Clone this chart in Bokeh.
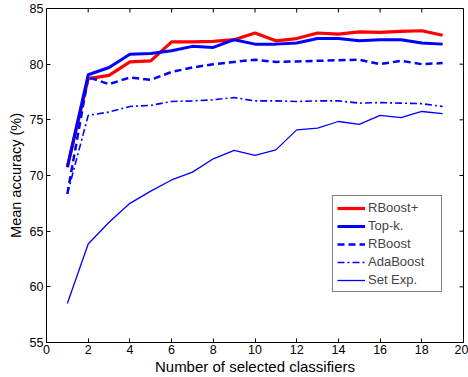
from bokeh.plotting import figure
from bokeh.models import Legend, LegendItem, FixedTicker, Range1d
from bokeh.embed import file_html
from bokeh.resources import INLINE

k = list(range(1, 20))
rboost_plus = [70.75, 78.7, 79.0, 80.2, 80.3, 82.0, 82.0, 82.05, 82.2, 82.8, 82.1, 82.3, 82.8, 82.7, 82.9, 82.85, 82.95, 83.0, 82.6]
topk = [70.75, 79.05, 79.7, 80.9, 80.95, 81.2, 81.6, 81.5, 82.2, 81.8, 81.8, 81.9, 82.3, 82.3, 82.1, 82.2, 82.2, 81.9, 81.8]
rboost = [68.35, 78.85, 78.2, 78.8, 78.6, 79.3, 79.7, 80.0, 80.2, 80.4, 80.2, 80.25, 80.3, 80.35, 80.4, 80.0, 80.3, 80.0, 80.1]
adaboost = [68.35, 75.4, 75.7, 76.2, 76.3, 76.65, 76.7, 76.8, 77.0, 76.7, 76.7, 76.65, 76.7, 76.7, 76.5, 76.55, 76.5, 76.45, 76.2]
setexp = [58.5, 63.85, 65.8, 67.5, 68.6, 69.6, 70.3, 71.5, 72.25, 71.8, 72.3, 74.1, 74.25, 74.85, 74.6, 75.4, 75.2, 75.75, 75.55]

x_ticks = list(range(0, 21, 2))
y_ticks = list(range(55, 86, 5))
x_min, x_max = 0, 20
y_min, y_max = 55, 85

FONT = "Liberation Sans"

p = figure(width=468, height=377, output_backend="svg", toolbar_location=None,
           x_range=Range1d(x_min, x_max), y_range=Range1d(y_min, y_max),
           min_border_left=46, min_border_right=5, min_border_top=8, min_border_bottom=35)
p.grid.visible = False
p.outline_line_color = "black"
p.outline_line_width = 1
p.background_fill_color = "white"
p.border_fill_color = "white"

for ax in (p.xaxis[0], p.yaxis[0]):
    ax.major_tick_in = 4
    ax.major_tick_out = 0
    ax.minor_tick_line_color = None
    ax.axis_line_color = "black"
    ax.major_label_text_font = FONT
    ax.major_label_text_font_size = "12.5px"
    ax.major_label_text_color = "black"
    ax.axis_label_text_font = FONT
    ax.axis_label_text_font_style = "normal"
    ax.axis_label_text_color = "black"
p.xaxis[0].ticker = FixedTicker(ticks=x_ticks)
p.yaxis[0].ticker = FixedTicker(ticks=y_ticks)
p.xaxis[0].axis_label = "Number of selected classifiers"
p.yaxis[0].axis_label = "Mean accuracy (%)"
p.xaxis[0].axis_label_text_font_size = "15px"
p.yaxis[0].axis_label_text_font_size = "14.5px"
p.xaxis[0].major_label_standoff = 2
p.xaxis[0].axis_label_standoff = 1
p.yaxis[0].major_label_standoff = 3
p.yaxis[0].axis_label_standoff = 3

# inward ticks on the top and right edges of the box (matlab style)
tick_dy = 0.36
tick_dx = 0.19
p.segment(x0=x_ticks, y0=[y_max] * len(x_ticks), x1=x_ticks, y1=[y_max - tick_dy] * len(x_ticks),
          line_color="black", line_width=1)
p.segment(x0=[x_max] * len(y_ticks), y0=y_ticks, x1=[x_max - tick_dx] * len(y_ticks), y1=y_ticks,
          line_color="black", line_width=1)

r1 = p.line(k, rboost_plus, line_color="#ff0000", line_width=3.2)
r2 = p.line(k, topk, line_color="#0000ff", line_width=3)
r3 = p.line(k, rboost, line_color="#0000ff", line_width=2.5, line_dash="7 4")
r4 = p.line(k, adaboost, line_color="#0000ff", line_width=1.6, line_dash="7 3 2 3")
r5 = p.line(k, setexp, line_color="#0000ff", line_width=1.3)

legend = Legend(items=[
    LegendItem(label="RBoost+", renderers=[r1]),
    LegendItem(label="Top-k.", renderers=[r2]),
    LegendItem(label="RBoost", renderers=[r3]),
    LegendItem(label="AdaBoost", renderers=[r4]),
    LegendItem(label="Set Exp.", renderers=[r5]),
], location=(286, 50))
legend.border_line_color = "black"
legend.border_line_width = 1.5
legend.background_fill_alpha = 1
legend.label_text_font = FONT
legend.label_text_font_size = "13px"
legend.glyph_width = 28
legend.glyph_height = 14
legend.label_height = 14
legend.label_width = 69
legend.spacing = 3
legend.padding = 4
legend.margin = 0
legend.label_standoff = 3
p.add_layout(legend, "center")

open("out.html", "w").write(file_html(p, INLINE))
